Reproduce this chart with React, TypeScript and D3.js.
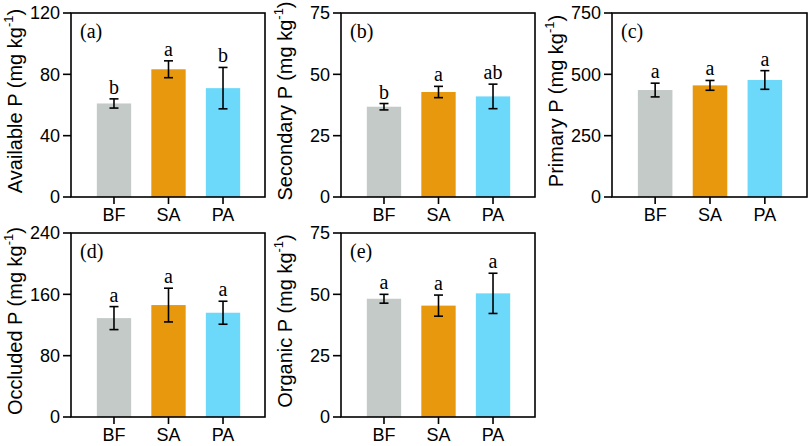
import React from 'react'
import * as d3 from 'd3'

// treatments and bar colours
const groups = ['BF', 'SA', 'PA']
const colors = ['#c3cac7', '#e8980c', '#6cd9fb']

// means, errors and significance letters
const availableMean = [61, 83.3, 71]
const availableErr = [3, 5.5, 13.5]
const availableSig = ['b', 'a', 'b']

const secondaryMean = [36.8, 42.8, 41]
const secondaryErr = [1.3, 2.3, 5]
const secondarySig = ['b', 'a', 'ab']

const primaryMean = [436, 455, 477]
const primaryErr = [28, 20, 38]
const primarySig = ['a', 'a', 'a']

const occludedMean = [129, 146, 136]
const occludedErr = [15, 22, 15]
const occludedSig = ['a', 'a', 'a']

const organicMean = [48.2, 45.4, 50.4]
const organicErr = [1.8, 4.3, 8.2]
const organicSig = ['a', 'a', 'a']

const panels = [
  { tag: '(a)', title: 'Available P', max: 120, ticks: [0, 40, 80, 120], mean: availableMean, err: availableErr, sig: availableSig, x: 71, y: 13, w: 194 },
  { tag: '(b)', title: 'Secondary P', max: 75, ticks: [0, 25, 50, 75], mean: secondaryMean, err: secondaryErr, sig: secondarySig, x: 341, y: 13, w: 194 },
  { tag: '(c)', title: 'Primary P', max: 750, ticks: [0, 250, 500, 750], mean: primaryMean, err: primaryErr, sig: primarySig, x: 612, y: 13, w: 195 },
  { tag: '(d)', title: 'Occluded P', max: 240, ticks: [0, 80, 160, 240], mean: occludedMean, err: occludedErr, sig: occludedSig, x: 71, y: 233, w: 194 },
  { tag: '(e)', title: 'Organic P', max: 75, ticks: [0, 25, 50, 75], mean: organicMean, err: organicErr, sig: organicSig, x: 341, y: 233, w: 194 }
]

const plotH = 184
const sans = "'Liberation Sans', Arial, sans-serif"
const serif = "'Liberation Serif', 'Times New Roman', serif"

const Panel = ({ p }) => {
  const x = d3
    .scaleBand()
    .domain(groups)
    .range([16, p.w - 15])
    .paddingInner(0.37)
    .paddingOuter(0.18)
  const y = d3.scaleLinear().domain([0, p.max]).range([plotH, 0])
  const bw = x.bandwidth()

  return (
    <g transform={`translate(${p.x},${p.y})`}>
      {/* bars */}
      {groups.map((g, i) => (
        <rect key={g} x={x(g)} y={y(p.mean[i])} width={bw} height={plotH - y(p.mean[i])} fill={colors[i]} />
      ))}
      {/* error bars and letters */}
      {groups.map((g, i) => {
        const cx = x(g) + bw / 2
        const hi = y(p.mean[i] + p.err[i])
        const lo = y(p.mean[i] - p.err[i])
        return (
          <g key={g} stroke="#000" strokeWidth={1.6}>
            <line x1={cx} x2={cx} y1={hi} y2={lo} />
            <line x1={cx - 4.5} x2={cx + 4.5} y1={hi} y2={hi} />
            <line x1={cx - 4.5} x2={cx + 4.5} y1={lo} y2={lo} />
            <text x={cx} y={hi - 5} textAnchor="middle" fontFamily={serif} fontSize={20} stroke="none" fill="#000">
              {p.sig[i]}
            </text>
          </g>
        )
      })}
      {/* frame */}
      <rect x={0} y={0} width={p.w} height={plotH} fill="none" stroke="#000" strokeWidth={1.6} />
      <text x={9} y={25} fontFamily={serif} fontSize={20}>
        {p.tag}
      </text>
      {/* y axis */}
      {p.ticks.map((t) => (
        <g key={t}>
          <line x1={-8} x2={0} y1={y(t)} y2={y(t)} stroke="#000" strokeWidth={1.6} />
          <text x={-11} y={y(t)} dy="0.35em" textAnchor="end" fontFamily={sans} fontSize={18}>
            {t}
          </text>
        </g>
      ))}
      {/* x axis */}
      {groups.map((g) => (
        <g key={g}>
          <line x1={x(g) + bw / 2} x2={x(g) + bw / 2} y1={plotH} y2={plotH + 7} stroke="#000" strokeWidth={1.6} />
          <text x={x(g) + bw / 2} y={plotH + 24} textAnchor="middle" fontFamily={sans} fontSize={18}>
            {g}
          </text>
        </g>
      ))}
      {/* y title */}
      <text
        transform={`translate(-56,${plotH / 2 - 4}) rotate(-90)`}
        textAnchor="middle"
        dominantBaseline="central"
        fontFamily={sans}
        fontSize={20}
      >
        {p.title} (mg kg
        <tspan dy={-7} fontSize={13}>-1</tspan>
        <tspan dy={7}>)</tspan>
      </text>
    </g>
  )
}

const App = () => {
  return (
    <svg width={810} height={446} style={{ position: 'absolute', left: 0, top: 0, background: '#fff' }}>
      {panels.map((p) => (
        <Panel key={p.tag} p={p} />
      ))}
    </svg>
  )
}

export default App
